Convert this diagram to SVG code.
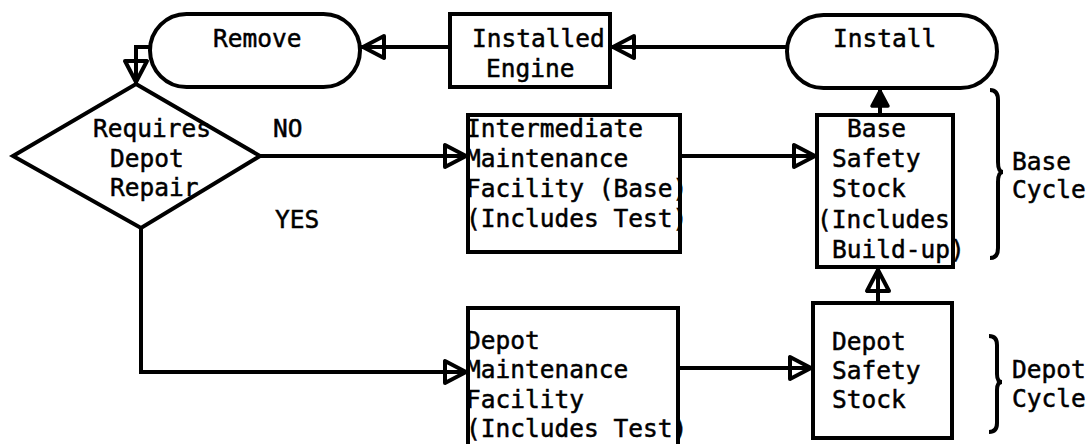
<svg xmlns="http://www.w3.org/2000/svg" width="1089" height="444" viewBox="0 0 1089 444">
<style>
.s{fill:none;stroke:#000;stroke-width:4}
.n{fill:#fff;stroke:#000;stroke-width:4}
text{font-family:"DejaVu Sans Mono","Liberation Mono",monospace;font-size:24.5px;fill:#000;stroke:#000;stroke-width:0.5}
</style>
<defs>
<marker id="ah" markerUnits="userSpaceOnUse" viewBox="-28 -15 30 30" refX="0" refY="0" markerWidth="30" markerHeight="30" orient="auto">
<path d="M-2,0 L-23,-11 L-23,11 Z" fill="none" stroke="#000" stroke-width="4" stroke-linejoin="round"/>
</marker>
<marker id="ahs" markerUnits="userSpaceOnUse" viewBox="-22 -12 24 24" refX="0" refY="0" markerWidth="24" markerHeight="24" orient="auto">
<path d="M-2,0 L-17,-8 L-17,8 Z" fill="#000" stroke="#000" stroke-width="3.5" stroke-linejoin="round"/>
</marker>
</defs>
<rect width="1089" height="444" fill="#fff"/>
<g id="connectors" class="s">
<line x1="787" y1="47" x2="611" y2="47" marker-end="url(#ah)"/>
<line x1="450" y1="47" x2="361" y2="47" marker-end="url(#ah)"/>
<path d="M152,47 H136 V84" marker-end="url(#ah)"/>
<line x1="260" y1="156" x2="468" y2="156" marker-end="url(#ah)"/>
<path d="M141,228 V372 H468" marker-end="url(#ah)"/>
<line x1="680" y1="156" x2="817" y2="156" marker-end="url(#ah)"/>
<line x1="880" y1="115" x2="880" y2="89" marker-end="url(#ahs)"/>
<line x1="678" y1="368" x2="813" y2="368" marker-end="url(#ah)"/>
<line x1="878" y1="303" x2="878" y2="268" marker-end="url(#ah)"/>
</g>
<g id="remove">
<rect class="n" x="150" y="14" width="210" height="73" rx="36.5" ry="36.5"/>
<text x="213" y="47">Remove</text>
</g>
<g id="installed-engine">
<rect class="n" x="450" y="14" width="160" height="73"/>
<text x="472" y="47">Installed</text>
<text x="486" y="77">Engine</text>
</g>
<g id="install">
<rect class="n" x="787" y="15" width="210" height="73" rx="36.5" ry="36.5"/>
<text x="833" y="47">Install</text>
</g>
<g id="decision">
<polygon class="n" points="136,84 260,156 141,228 13,156"/>
<text x="93" y="137">Requires</text>
<text x="110" y="167">Depot</text>
<text x="110" y="196">Repair</text>
</g>
<g id="labels">
<text x="273" y="137">NO</text>
<text x="275" y="228">YES</text>
</g>
<g id="intermediate">
<rect class="n" x="468" y="115" width="212" height="137"/>
<text x="466" y="137">Intermediate</text>
<text x="466" y="167">Maintenance</text>
<text x="466" y="197">Facility (Base)</text>
<text x="466" y="227">(Includes Test)</text>
</g>
<g id="base-safety-stock">
<rect class="n" x="817" y="115" width="136" height="152"/>
<text x="847" y="137">Base</text>
<text x="832" y="167">Safety</text>
<text x="832" y="197">Stock</text>
<text x="817" y="228">(Includes</text>
<text x="832" y="258">Build-up)</text>
</g>
<g id="depot-maintenance">
<rect class="n" x="468" y="308" width="210" height="140"/>
<text x="466" y="349">Depot</text>
<text x="466" y="378">Maintenance</text>
<text x="466" y="408">Facility</text>
<text x="466" y="437">(Includes Test)</text>
</g>
<g id="depot-safety-stock">
<rect class="n" x="813" y="303" width="139" height="135"/>
<text x="832" y="350">Depot</text>
<text x="832" y="379">Safety</text>
<text x="832" y="408">Stock</text>
</g>
<g id="base-cycle">
<path class="s" d="M990,90 Q998,90 998,100 V162 Q998,172 1003,172 Q998,172 998,182 V248 Q998,258 990,258"/>
<text x="1012" y="170">Base</text>
<text x="1012" y="198">Cycle</text>
</g>
<g id="depot-cycle">
<path class="s" d="M989,336 Q997,336 997,345 V374 Q997,382 1002,382 Q997,382 997,390 V423 Q997,432 989,432"/>
<text x="1012" y="378">Depot</text>
<text x="1012" y="407">Cycle</text>
</g>
</svg>
